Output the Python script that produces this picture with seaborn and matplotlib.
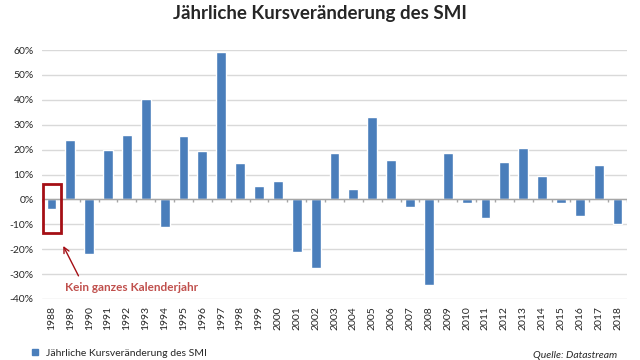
import numpy as np
import pandas as pd
import seaborn as sns
import matplotlib.pyplot as plt
from matplotlib.patches import Rectangle, Patch
from matplotlib.ticker import FuncFormatter, MultipleLocator

years = [str(y) for y in range(1988, 2019)]
changes = [-4, 24, -22, 20, 26, 40.5, -11, 25.5, 19.5, 59, 14.5, 5.5, 7.5, -21, -27.5,
           18.5, 4, 33, 16, -3, -34.5, 18.5, -1.5, -7.5, 15, 20.5, 9.5, -1.5, -6.5, 14, -10]

df = pd.DataFrame({"Jahr": years, "Veränderung": changes})

sns.set_style("white")
plt.rcParams["font.family"] = ["Lato", "DejaVu Sans"]

fig = plt.figure(figsize=(6.4, 3.6), dpi=100)
ax = fig.add_axes([42 / 640, 1 - 299 / 360, 585 / 640, 249 / 360])

sns.barplot(data=df, x="Jahr", y="Veränderung", color="#4a7ebb", width=0.52,
            saturation=1, ax=ax, zorder=3)

ax.set_ylim(-40, 60)
ax.set_xlim(-0.5, len(years) - 0.5)
ax.yaxis.set_major_locator(MultipleLocator(10))
ax.yaxis.set_major_formatter(FuncFormatter(lambda v, p: f"{v:.0f}%"))
ax.grid(axis="y", color="#d9d9d9", linewidth=1, zorder=0)
for s in ax.spines.values():
    s.set_visible(False)
ax.axhline(0, color="#a6a6a6", linewidth=1, zorder=4)
ax.vlines(np.arange(len(years) + 1) - 0.5, -1.2, 0, color="#a6a6a6", linewidth=1, zorder=4)
ax.tick_params(axis="y", labelsize=7.5, length=0, pad=6)
ax.tick_params(axis="x", labelsize=7.5, length=0, rotation=90, pad=5)
ax.set_xlabel("")
ax.set_ylabel("")

# Kasten um 1988
ax.add_patch(Rectangle((-0.45, -13.3), 0.95, 19.3, fill=False, edgecolor="#a50f15",
                       linewidth=2, zorder=5))
ax.text(0.72, -35.3, "Kein ganzes Kalenderjahr", color="#c0504d", fontsize=8.5,
        fontweight="bold", va="center", ha="left", zorder=6)
ax.annotate("", xy=(0.56, -17.7), xytext=(1.5, -31.7),
            arrowprops=dict(arrowstyle="->", color="#a50f15", lw=1), zorder=6)

fig.suptitle("Jährliche Kursveränderung des SMI", fontsize=13.5, fontweight="bold",
             y=0.985)
fig.legend(handles=[Patch(color="#4a7ebb")], labels=["Jährliche Kursveränderung des SMI"],
           loc="lower left", bbox_to_anchor=(0.035, -0.02), frameon=False,
           fontsize=7.5, handlelength=0.6, handleheight=0.6)
fig.text(0.965, 0.005, "Quelle: Datastream", fontsize=7.5, style="italic", ha="right")

fig.savefig("out.png", dpi=100)
